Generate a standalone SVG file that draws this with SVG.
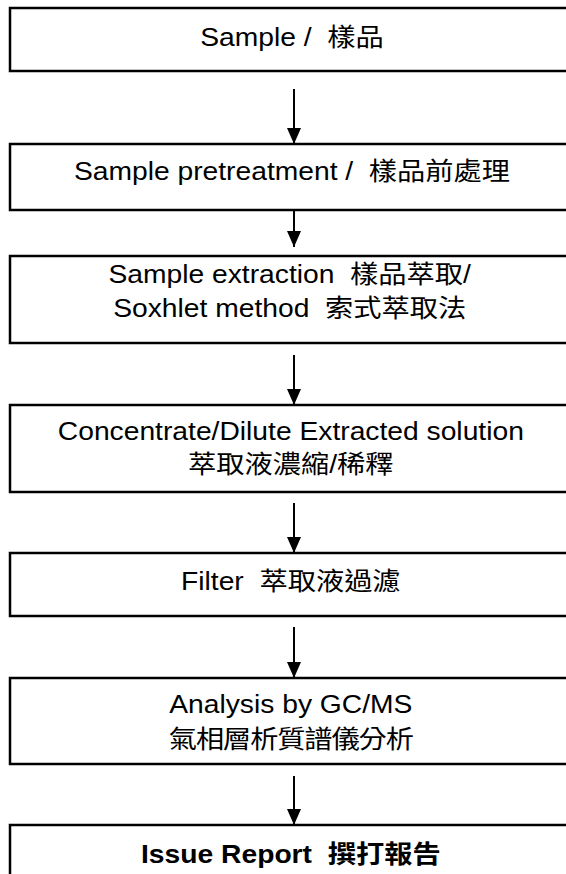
<svg xmlns="http://www.w3.org/2000/svg" width="566" height="874" viewBox="0 0 566 874">
<style>
.box{fill:#fff;stroke:#000;stroke-width:2.5}
.t{font-family:'Liberation Sans','Noto Sans CJK TC',sans-serif;font-size:25px;fill:#000;text-anchor:middle}
.b{font-weight:bold}
.c{stroke:#000;stroke-width:2;fill:none;marker-end:url(#ah)}
</style>
<defs>
<marker id="ah" markerUnits="userSpaceOnUse" viewBox="0 0 16 14" refX="16" refY="7" markerWidth="16" markerHeight="14" orient="auto">
<path d="M0,0 L16,7 L0,14 z" fill="#000"/>
</marker>
</defs>
<rect width="566" height="874" fill="#fff"/>
<g id="connectors">
<line class="c" x1="294" y1="89" x2="294" y2="144"/>
<line class="c" x1="294" y1="210" x2="294" y2="247"/>
<line class="c" x1="294" y1="355" x2="294" y2="405"/>
<line class="c" x1="294" y1="503" x2="294" y2="553"/>
<line class="c" x1="294" y1="627" x2="294" y2="678"/>
<line class="c" x1="294" y1="776" x2="294" y2="825"/>
</g>
<g id="n1">
<rect class="box" x="10" y="8" width="600" height="63"/>
<text class="t" transform="matrix(1.13 0 0 1 -38 0)" x="292" y="46" xml:space="preserve">Sample /  樣品</text>
</g>
<g id="n2">
<rect class="box" x="10" y="144" width="600" height="66"/>
<text class="t" transform="matrix(1.13 0 0 1 -38 0)" x="292" y="180" xml:space="preserve">Sample pretreatment /  樣品前處理</text>
</g>
<g id="n3">
<rect class="box" x="10" y="256" width="600" height="87"/>
<text class="t" transform="matrix(1.13 0 0 1 -38 0)" x="290" y="283" xml:space="preserve">Sample extraction  樣品萃取/</text>
<text class="t" transform="matrix(1.13 0 0 1 -38 0)" x="290" y="317" xml:space="preserve">Soxhlet method  索式萃取法</text>
</g>
<g id="n4">
<rect class="box" x="10" y="405" width="600" height="87"/>
<text class="t" transform="matrix(1.13 0 0 1 -38 0)" x="291" y="440">Concentrate/Dilute Extracted solution</text>
<text class="t" transform="matrix(1.13 0 0 1 -38 0)" x="291" y="473">萃取液濃縮/稀釋</text>
</g>
<g id="n5">
<rect class="box" x="10" y="553" width="600" height="63"/>
<text class="t" transform="matrix(1.13 0 0 1 -38 0)" x="291" y="590" xml:space="preserve">Filter  萃取液過濾</text>
</g>
<g id="n6">
<rect class="box" x="10" y="678" width="600" height="86"/>
<text class="t" transform="matrix(1.13 0 0 1 -38 0)" x="291" y="713">Analysis by GC/MS</text>
<text class="t" transform="matrix(1.13 0 0 1 -38 0)" x="291" y="748" letter-spacing="-1">氣相層析質譜儀分析</text>
</g>
<g id="n7">
<rect class="box" x="10" y="825" width="600" height="100"/>
<text class="t b" transform="matrix(1.13 0 0 1 -38 0)" x="291" y="863" xml:space="preserve">Issue Report  撰打報告</text>
</g>
</svg>
